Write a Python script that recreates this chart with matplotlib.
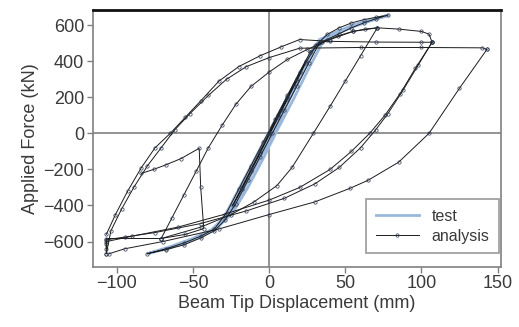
import matplotlib.pyplot as plt

# --- test: cycles within about +-80 mm (light blue) ---
test_disp = [0, 10, 20, 30, 20, 10, 0, -10, -20, -28, -18, -8, 2, 12, 22, 33,
             45, 55, 66, 78, 66, 55, 45, 36, 26, 16, 6, -4, -14, -24, -35, -50,
             -65, -80, -65, -50, -38, -30, -20, -10, 0, 10, 20, 30, 40, 55, 66, 78]
test_force = [0, 150, 310, 470, 300, 130, -40, -200, -360, -470, -310, -140,
              30, 200, 360, 520, 565, 600, 628, 655, 622, 590, 555, 520, 360,
              190, 30, -140, -300, -440, -530, -590, -635, -667, -628, -582,
              -535, -470, -310, -150, 10, 170, 330, 490, 545, 596, 626, 652]

# --- analysis branches (black, open circles) ---
elastic_disp = [0, 6, 12, 18, 24, 18, 12, 6, 0, -6, -12, -18, -24, -18, -12, -6,
                0, 8, 16, 24, 31, 38, 46, 54, 62, 70, 78, 70, 62, 54, 46, 38, 33,
                26, 18, 10, 2, -6, -14, -22, -29, -36, -45, -56, -68, -80, -68,
                -56, -45, -36, -28, -20, -12, -4, 4, 12, 20, 27]
elastic_force = [0, 100, 200, 300, 400, 290, 190, 90, -10, -110, -210, -310,
                 -400, -300, -200, -100, 0, 130, 260, 390, 490, 548, 585, 612,
                 630, 643, 655, 635, 612, 585, 552, 520, 500, 390, 260, 130, 0,
                 -130, -260, -390, -480, -540, -580, -618, -645, -667, -640,
                 -608, -570, -530, -440, -310, -180, -50, 80, 210, 340, 450]

climb71_disp = [27, 35, 45, 55, 63, 71]
climb71_force = [450, 505, 540, 565, 578, 585]

unload71_disp = [71, 60, 50, 40, 29, 15, 5, -10, -25, -45, -71, -107, -107]
unload71_force = [585, 430, 290, 150, 0, -189, -290, -380, -450, -520, -583, -583, -611]

reload_a_disp = [-71, -64, -56, -48, -40, -31, -22, -12, 0, 12, 25, 40, 55, 71,
                 85, 100, 105, 107]
reload_a_force = [-583, -470, -340, -210, -80, 44, 160, 260, 340, 410, 465, 520,
                  565, 585, 578, 565, 550, 505]

unload107_disp = [107, 98, 88, 78, 70, 60, 46, 30, 10, -15, -45, -75, -95, -107, -107]
unload107_force = [505, 380, 240, 110, 20, -80, -189, -280, -360, -430, -500,
                   -550, -575, -590, -640]

reload_b_disp = [-107, -101, -93, -84, -75, -65, -55, -45, -33, -20, -6, 8, 20,
                 40, 70, 100, 107]
reload_b_force = [-560, -450, -320, -190, -80, 0, 90, 180, 290, 370, 430, 480,
                  520, 510, 506, 505, 505]

unload107b_disp = [107, 96, 86, 76, 66, 54, 40, 20, 0, -30, -60, -90, -107, -107]
unload107b_force = [505, 360, 220, 100, 0, -100, -200, -300, -370, -450, -520,
                    -570, -600, -667]

reload_c_disp = [-107, -104, -97, -89, -80, -71, -62, -52, -40, -28, -15, 0, 20,
                 60, 100, 140, 143]
reload_c_force = [-667, -540, -420, -300, -180, -80, 20, 110, 210, 300, 370, 420,
                  472, 476, 476, 474, 465]

unload143_disp = [143, 125, 105, 85, 65, 53, 30, 0, -33, -70, -95, -105]
unload143_force = [465, 250, 0, -160, -260, -305, -380, -450, -530, -600, -640, -667]

kink_disp = [-84, -76, -68, -58, -46, -45, -43, -55, -71]
kink_force = [-222, -200, -175, -140, -83, -300, -528, -560, -583]

analysis_x = [elastic_disp, climb71_disp, unload71_disp, reload_a_disp,
              unload107_disp, reload_b_disp, unload107b_disp, reload_c_disp,
              unload143_disp, kink_disp]
analysis_y = [elastic_force, climb71_force, unload71_force, reload_a_force,
              unload107_force, reload_b_force, unload107b_force, reload_c_force,
              unload143_force, kink_force]

x_ticks = [-100, -50, 0, 50, 100, 150]
y_ticks = [-600, -400, -200, 0, 200, 400, 600]

plt.rcParams['font.family'] = ['Liberation Sans', 'DejaVu Sans']
fig = plt.figure(figsize=(5.19, 3.27), dpi=100)
ax = fig.add_axes([0.1785, 0.184, 0.786, 0.785])

texto = '#3a3a3a'
gris = '#808080'

ax.axhline(0, color=gris, lw=1.2, zorder=1)
ax.axvline(0, color=gris, lw=1.2, zorder=1)

ax.plot(test_disp, test_force, color='#9ab8dc', lw=2.0, label='test', zorder=2)
for i, (xs, ys) in enumerate(zip(analysis_x, analysis_y)):
    ax.plot(xs, ys, color='#1c1c1c', lw=0.7, marker='o', ms=2.4, mfc='none',
            mew=0.5, mec='#2c3850', label='analysis' if i == 0 else None, zorder=3)

ax.set_xlim(-116, 152)
ax.set_ylim(-740, 683)
ax.set_xticks(x_ticks)
ax.set_yticks(y_ticks)
ax.tick_params(direction='out', length=4, width=1, color=gris, labelcolor=texto,
               labelsize=13, pad=2)
for lado in ['left', 'bottom', 'right']:
    ax.spines[lado].set_color(gris)
    ax.spines[lado].set_linewidth(1.2)
ax.spines['top'].set_color('#111111')
ax.spines['top'].set_linewidth(2)

ax.set_xlabel('Beam Tip Displacement (mm)', fontsize=13, color=texto, labelpad=2)
ax.set_ylabel('Applied Force (kN)', fontsize=13, color=texto, labelpad=3)

leg = ax.legend(loc='lower right', bbox_to_anchor=(0.996, 0.053), borderaxespad=0,
                fontsize=11.5, frameon=True, fancybox=False, handlelength=2.7,
                borderpad=0.6, labelspacing=0.3)
leg.get_frame().set_edgecolor(gris)
leg.get_frame().set_linewidth(1.2)
for t in leg.get_texts():
    t.set_color(texto)

fig.savefig('out.png', dpi=100)
